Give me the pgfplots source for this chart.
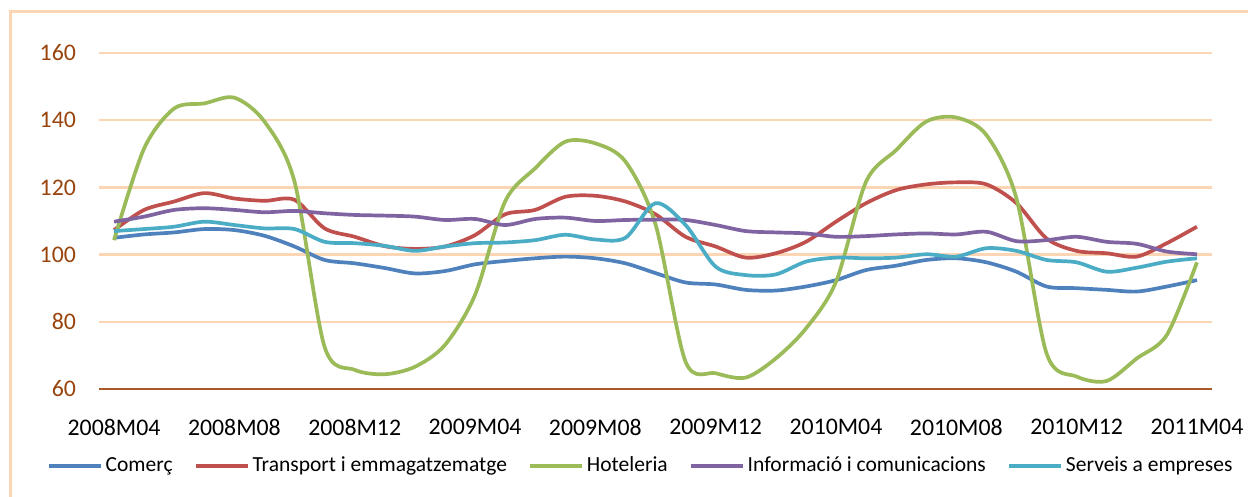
\documentclass[border=0pt]{standalone}
\usepackage{fontspec}
\setmainfont{Carlito}
\usepackage{pgfplots}
\pgfplotsset{compat=1.18}
\usepackage{pgfplotstable}

\definecolor{cblue}{RGB}{79,129,189}
\definecolor{cred}{RGB}{192,80,77}
\definecolor{cgreen}{RGB}{155,187,89}
\definecolor{cpurple}{RGB}{128,100,162}
\definecolor{ccyan}{RGB}{75,172,198}
\definecolor{peach}{RGB}{252,213,181}
\definecolor{tickbrown}{RGB}{152,68,12}
\definecolor{axbrown}{RGB}{170,90,40}

\pgfplotstableread{
i com tra hot inf ser
0 105 107.3 104.3 109.8 107
1 106 113.3 131.6 111.3 107.6
2 106.6 115.8 143.5 113.3 108.3
3 107.6 118.3 145 113.8 109.8
4 107.3 116.7 146.7 113.3 108.8
5 105.6 116 139.6 112.6 107.8
6 102.4 116.3 121.7 113 107.6
7 98.4 107.8 72.5 112.3 103.8
8 97.4 105.3 65.7 111.8 103.4
9 96 102.5 64.4 111.6 102.6
10 94.4 101.7 66.6 111.3 101.1
11 95.1 102.4 73.1 110.3 102.4
12 97.1 105.8 88 110.6 103.4
13 98.1 112 115.8 108.8 103.6
14 98.9 113.3 125.7 110.6 104.3
15 99.4 117.2 133.6 111 105.9
16 98.9 117.5 133.1 110 104.5
17 97.4 115.8 127.7 110.3 105
18 94.5 112 109 110.4 115.3
19 91.7 105.3 68.1 110.3 108.8
20 91.1 102.4 64.7 108.8 96.4
21 89.5 99.1 63.4 107 93.9
22 89.3 100.4 69.1 106.6 94.1
23 90.5 103.8 78 106.3 97.9
24 92.4 109.8 91.9 105.3 99.1
25 95.4 115.3 121.7 105.5 98.9
26 96.7 119.2 131.1 106 99.1
27 98.4 120.9 139.6 106.3 100.1
28 98.9 121.5 140.8 106 99.4
29 97.7 120.9 135.6 106.8 101.9
30 94.9 115.3 116.7 104 101.1
31 90.5 104.8 70.6 104.3 98.4
32 90 101.1 63.7 105.3 97.7
33 89.5 100.4 62.4 103.8 94.9
34 89 99.4 69.1 103.2 96.1
35 90.5 103.4 76.1 100.9 97.9
36 92.4 108.3 97.7 100.1 98.9
}\datatable

\begin{document}
\begin{tikzpicture}
\useasboundingbox (0,0) rectangle (624pt,248.5pt);
\draw[peach, line width=1.5pt] (5.25pt,-20pt) rectangle (650pt,242.75pt);
\begin{axis}[
  at={(49.5pt,54pt)}, anchor=south west,
  scale only axis,
  width=556.5pt, height=168pt,
  xmin=-0.5, xmax=36.5,
  ymin=60, ymax=160,
  axis line style={draw=none},
  ytick={80,100,...,160},
  extra y ticks={60},
  extra y tick style={grid=major, major grid style={draw=axbrown, line width=1pt}},
  ymajorgrids,
  major grid style={draw=peach, line width=1.25pt},
  xtick={0,4,...,36},
  xticklabels={2008M04,2008M08,2008M12,2009M04,2009M08,2009M12,2010M04,2010M08,2010M12,2011M04},
  major tick length=0pt,
  tick label style={font=\fontsize{11.9}{14}\selectfont},
  yticklabel style={text=tickbrown, xshift=-8pt},
  xticklabel style={text=black, yshift=-11.5pt},
  /pgf/number format/assume math mode=true,
  legend columns=5,
  legend style={at={(0.487,-0.228)}, anchor=center, draw=none, fill=none,
    font=\fontsize{10.75}{12}\selectfont,
    /tikz/every even column/.append style={column sep=9pt},
    nodes={inner sep=1.5pt}},
  legend image code/.code={\draw[#1, line width=2pt] (0pt,0pt) -- (26pt,0pt);},
  every axis plot/.append style={line width=1.85pt, smooth, tension=0.5, no markers},
]
\addplot[cblue] table[x=i, y=com] {\datatable};
\addlegendentry{Comerç}
\addplot[cred] table[x=i, y=tra] {\datatable};
\addlegendentry{Transport i emmagatzematge}
\addplot[cgreen] table[x=i, y=hot] {\datatable};
\addlegendentry{Hoteleria}
\addplot[cpurple] table[x=i, y=inf] {\datatable};
\addlegendentry{Informació i comunicacions}
\addplot[ccyan] table[x=i, y=ser] {\datatable};
\addlegendentry{Serveis a empreses}
\end{axis}
\end{tikzpicture}
\end{document}
